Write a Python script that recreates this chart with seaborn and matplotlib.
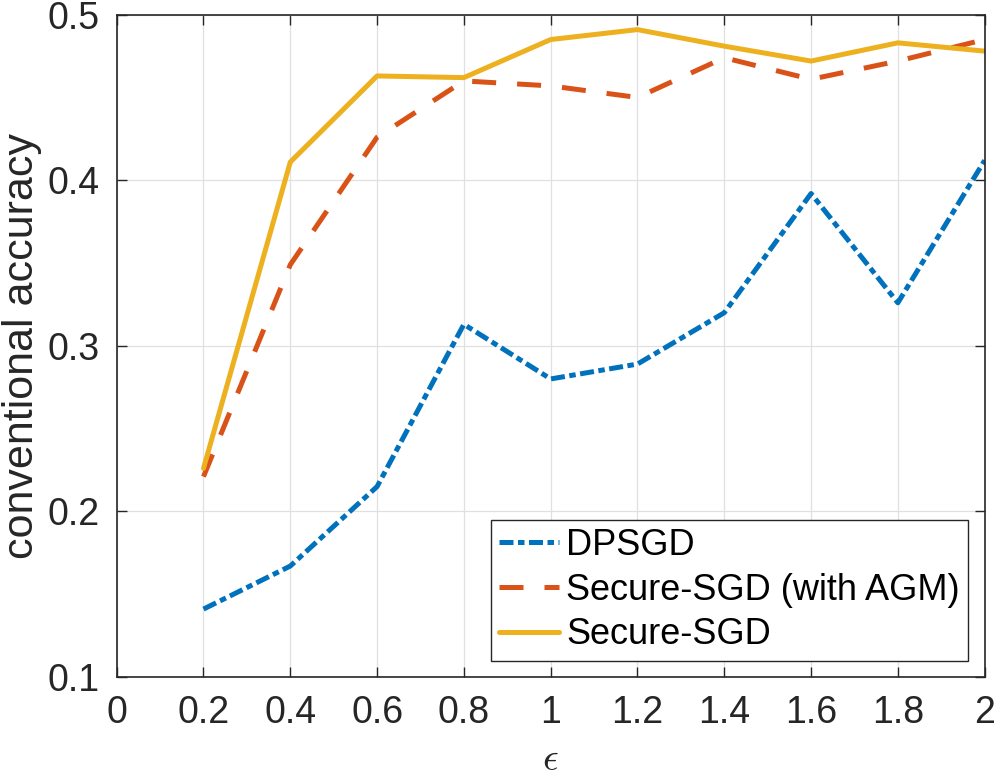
import numpy as np
import pandas as pd
import matplotlib
matplotlib.use("Agg")
import matplotlib.pyplot as plt
import seaborn as sns

# values
eps = [0.2, 0.4, 0.6, 0.8, 1.0, 1.2, 1.4, 1.6, 1.8, 2.0]
dpsgd = [0.141, 0.167, 0.215, 0.313, 0.280, 0.289, 0.320, 0.392, 0.326, 0.412]
secure_agm = [0.221, 0.349, 0.426, 0.460, 0.457, 0.450, 0.474, 0.461, 0.472, 0.485]
secure = [0.226, 0.411, 0.463, 0.462, 0.485, 0.491, 0.481, 0.472, 0.483, 0.478]
methods = ["DPSGD", "Secure-SGD (with AGM)", "Secure-SGD"]

df = pd.DataFrame({
    "eps": eps * 3,
    "acc": dpsgd + secure_agm + secure,
    "method": [methods[0]] * len(eps) + [methods[1]] * len(eps) + [methods[2]] * len(eps),
})

sns.set_theme(style="whitegrid")
plt.rcParams["font.family"] = ["Liberation Sans", "DejaVu Sans"]
plt.rcParams["mathtext.fontset"] = "cm"

colors = {methods[0]: "#0072BD", methods[1]: "#D95319", methods[2]: "#EDB120"}
dashes = {methods[0]: (2.8, 0.9, 1.3, 0.9), methods[1]: (4.8, 4.2), methods[2]: ""}

fig = plt.figure(figsize=(9.94, 7.82), dpi=100)
ax = fig.add_axes([0.1174, 0.1343, 0.8732, 0.8469])

sns.lineplot(data=df, x="eps", y="acc", hue="method", style="method",
             palette=colors, dashes=dashes, hue_order=methods, style_order=methods,
             linewidth=3.6, ax=ax)

ax.set_xlim(0, 2)
ax.set_ylim(0.1, 0.5)
ax.set_xticks(np.arange(0, 2.01, 0.2))
ax.set_xticklabels(["0", "0.2", "0.4", "0.6", "0.8", "1", "1.2", "1.4", "1.6", "1.8", "2"])
ax.set_yticks([0.1, 0.2, 0.3, 0.4, 0.5])
ax.set_yticklabels(["0.1", "0.2", "0.3", "0.4", "0.5"])

ax.grid(True, color="#e0e0e0", linewidth=0.9)
for s in ax.spines.values():
    s.set_color("#262626")
    s.set_linewidth(1.2)
ax.tick_params(axis="both", direction="in", length=7, width=1.0, color="#262626",
               labelsize=27, labelcolor="#262626", top=True, right=True,
               bottom=True, left=True)
ax.tick_params(axis="x", pad=13)
ax.tick_params(axis="y", pad=12)

ax.set_xlabel(r"$\epsilon$", fontsize=28, color="#262626", labelpad=8)
ax.set_ylabel("conventional accuracy", fontsize=31, color="#262626")
ax.yaxis.set_label_coords(-0.086, 0.5)

leg = ax.legend(loc="lower right", bbox_to_anchor=(0.981, 0.0246), borderaxespad=0,
                fontsize=26, frameon=True, fancybox=False, framealpha=1,
                edgecolor="#262626", handlelength=1.66, handletextpad=0.2,
                labelspacing=0.27, borderpad=0.23)
leg.get_frame().set_linewidth(1.0)
for t in leg.get_texts():
    t.set_color("black")

fig.savefig("out.png", dpi=100)
